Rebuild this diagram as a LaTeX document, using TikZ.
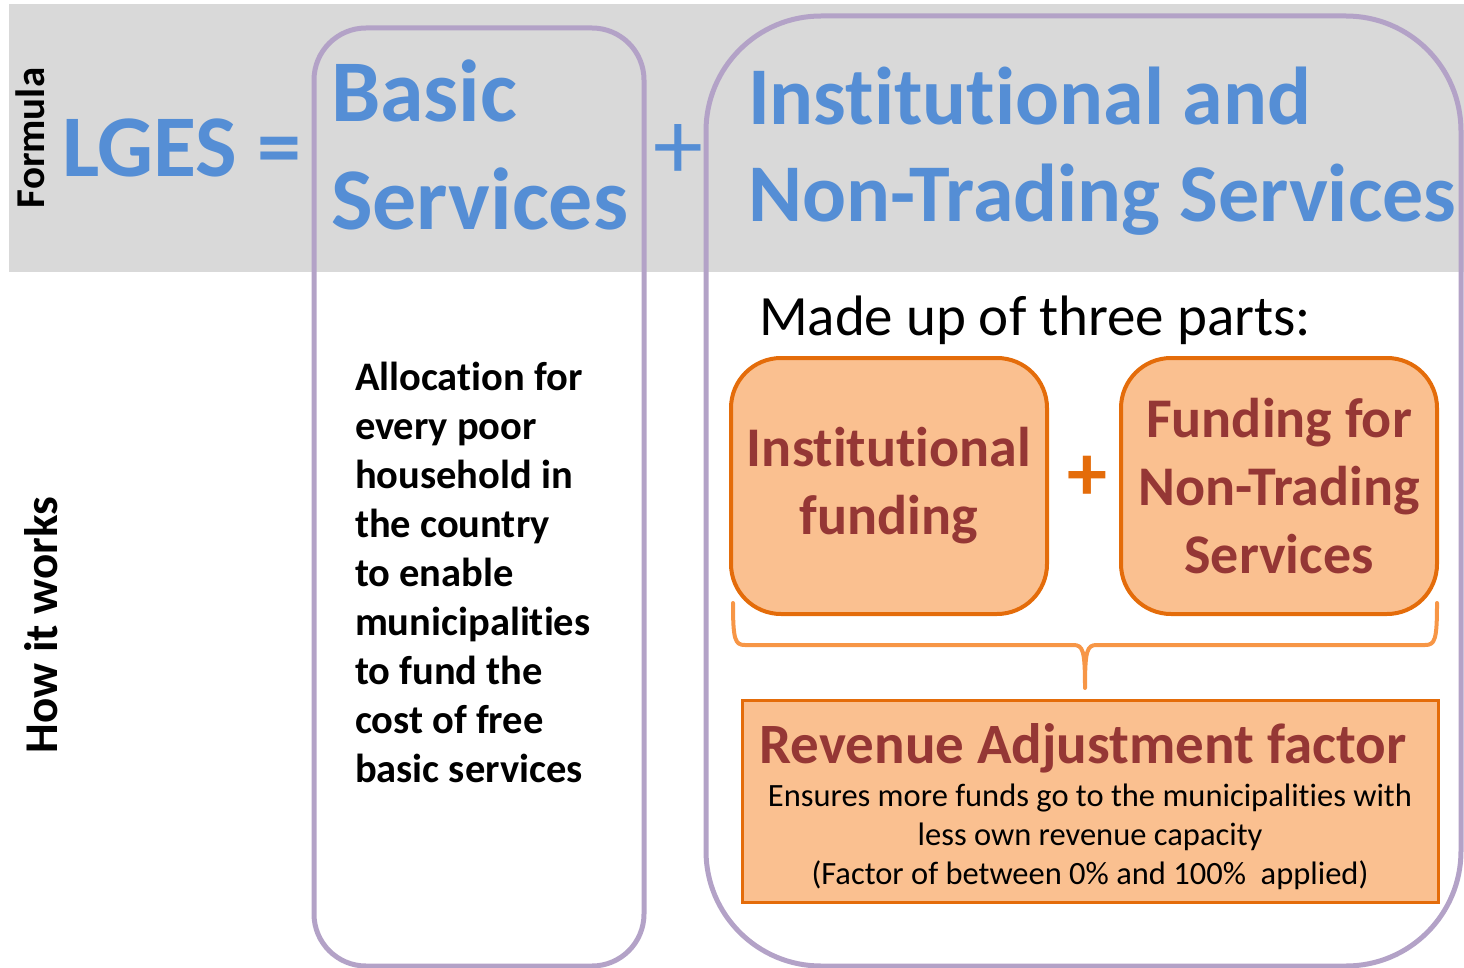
\documentclass[tikz,border=0pt]{standalone}
\usepackage{fontspec}
\setmainfont{Carlito}[Ligatures=NoCommon]
\definecolor{blu}{HTML}{558ED5}
\definecolor{purp}{HTML}{B3A2C7}
\definecolor{gry}{HTML}{D9D9D9}
\definecolor{peach}{HTML}{FAC090}
\definecolor{orng}{HTML}{E46C0A}
\definecolor{lorng}{HTML}{F79646}
\definecolor{dred}{HTML}{953735}
\newcommand{\fsz}[2]{\fontsize{#1}{#2}\selectfont}
\begin{document}
\begin{tikzpicture}[x=1pt,y=-1pt,
  txt/.style={inner sep=0pt, outer sep=0pt},
  head/.style={txt, anchor=base west, text=blu, font=\bfseries\fsz{88}{106}},
  column/.style={draw=purp, line width=5pt},
  part/.style={draw=orng, fill=peach, line width=4pt, rounded corners=50pt,
     minimum width=316pt, minimum height=256pt, text=dred, align=center,
     font=\bfseries\fsz{56}{68}},
  brace/.style={draw=lorng, line width=4pt, line join=round, line cap=round}]
\useasboundingbox (0,0) rectangle (1464,968);
\fill[gry] (9,4) rectangle (1464,272);
\draw[column, rounded corners=52pt] (314,28) rectangle (644,966);
\draw[column, rounded corners=115pt] (706,16) rectangle (1461,966);

\node[txt, rotate=90, font=\bfseries\fsz{41}{41}] (formula) at (30,138) {Formula};
\node[txt, rotate=90, font=\bfseries\fsz{47}{47}] (how) at (41,625) {How it works};

\node[head] (lges) at (62,177) {LGES =};
\node[head] (basic1) at (331,122) {Basic};
\node[head] (basic2) at (331,230) {Services};
\node[txt, text=blu, font=\fsz{100}{100}] (plus1) at (678,152) {+};
\node[head, font=\bfseries\fsz{82}{100}] (inst1) at (748,125) {Institutional and};
\node[head, font=\bfseries\fsz{82}{100}] (inst2) at (748,222) {Non-Trading Services};

\node[txt, anchor=base west, align=left, font=\bfseries\fsz{40.5}{49}] (alloc) at (355,782)
  {Allocation for\\every poor\\household in\\the country\\to enable\\municipalities\\to fund the\\cost of free\\basic services};

\node[txt, anchor=base west, font=\fsz{57}{57}] (made) at (759,335) {Made up of three parts:};

\node[part] (instf) at (889,486) {Institutional\\funding};
\node[part] (ntf) at (1279,486) {Funding for\\Non-Trading\\Services};
\node[txt, text=orng, font=\bfseries\fsz{80}{80}] (plus2) at (1087,478) {+};

\coordinate (bl) at (733,603);
\coordinate (br) at (1437,603);
\coordinate (bm) at (1085,688);
\draw[brace] (bl) .. controls (733,640) and (735,645) .. (745,645) -- (1073,645)
   .. controls (1083,645) and (1085,650) .. (bm)
   .. controls (1085,650) and (1087,645) .. (1097,645) -- (1425,645)
   .. controls (1435,645) and (1437,640) .. (br);

\node[draw=orng, fill=peach, line width=3pt, minimum width=696pt, minimum height=202pt, inner sep=0pt] (rev) at (1090,801) {};
\node[txt, anchor=base, text=dred, font=\bfseries\fsz{57}{57}] (revt) at (1083,763) {Revenue Adjustment factor};
\node[txt, anchor=base, align=center, font=\fsz{32.5}{39}] (revs) at (1090,884)
  {Ensures more funds go to the municipalities with\\less own revenue capacity\\(Factor of between 0\% and 100\%~~applied)};
\end{tikzpicture}
\end{document}
